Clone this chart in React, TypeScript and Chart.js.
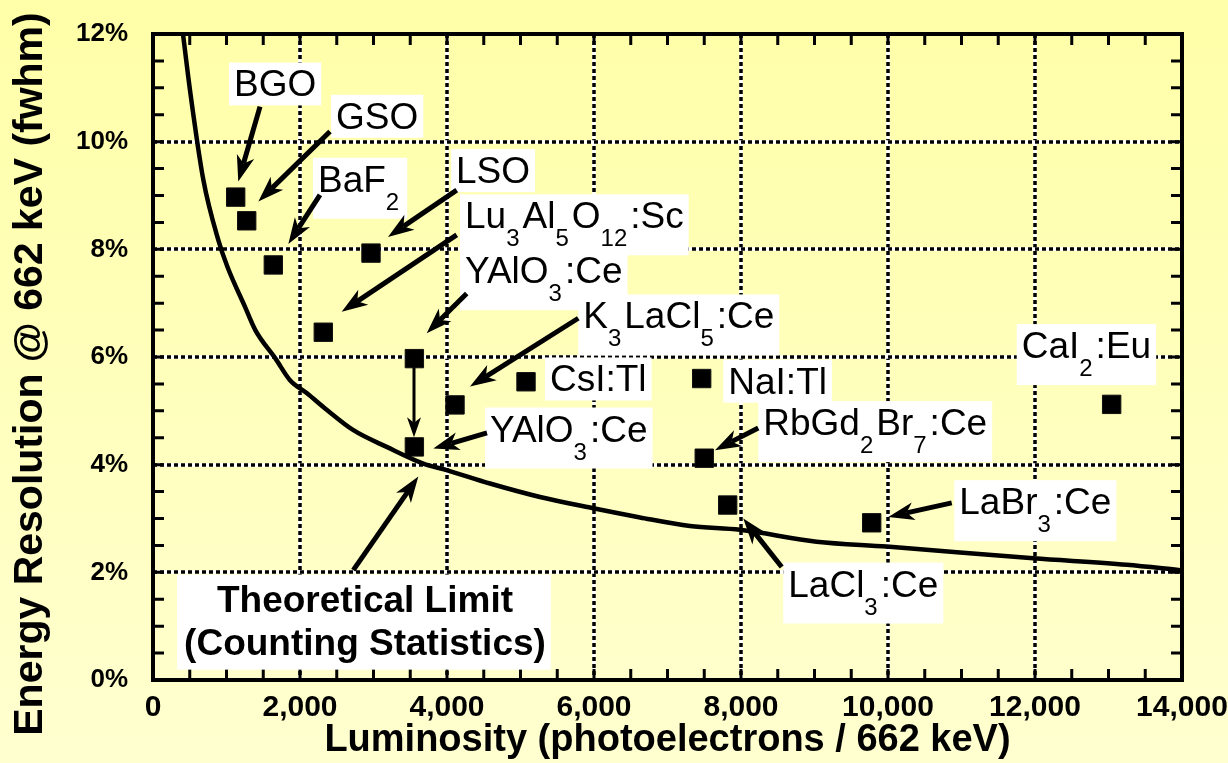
import React, { useEffect, useRef } from 'react';
import { Chart, registerables } from 'chart.js';

Chart.register(...registerables);

// Theoretical limit curve (counting statistics), luminosity vs. resolution in %
const curveLum = [408, 503, 685, 889, 1011, 1252, 1392, 1667, 1864, 2091, 2363, 2726, 3179, 3678, 3995, 4585, 5265, 5991, 6626, 7306, 7986, 9029, 9982, 11977, 13247, 13973];
const curveRes = [12.0, 10.96, 9.29, 8.17, 7.68, 6.93, 6.5, 5.97, 5.57, 5.33, 5.02, 4.64, 4.33, 4.02, 3.9, 3.65, 3.4, 3.19, 3.02, 2.86, 2.79, 2.57, 2.48, 2.26, 2.14, 2.04];

// Measured scintillators
const materials = ['BGO', 'GSO', 'BaF2', 'LSO', 'Lu3Al5O12:Sc', 'YAlO3:Ce', 'YAlO3:Ce', 'K3LaCl5:Ce', 'CsI:Tl', 'NaI:Tl', 'RbGd2Br7:Ce', 'LaCl3:Ce', 'LaBr3:Ce', 'CaI2:Eu'];
const matLum = [1125, 1275, 1637, 2966, 2317, 3556, 3556, 4109, 5075, 7465, 7500, 7819, 9778, 13043];
const matRes = [8.97, 8.53, 7.71, 7.93, 6.46, 5.97, 4.33, 5.11, 5.54, 5.6, 4.12, 3.25, 2.92, 5.12];

// Axis ticks
const xTickValues = [0, 2000, 4000, 6000, 8000, 10000, 12000, 14000];
const yTickValues = [0, 2, 4, 6, 8, 10, 12];

const xTitle = 'Luminosity (photoelectrons / 662 keV)';
const yTitle = 'Energy Resolution @ 662 keV (fwhm)';

// Callout layout: text ({n} = subscript), left edge / baseline in data units
const callouts = [
  { text: 'BGO', at: [1102, 10.84] },
  { text: 'GSO', at: [2490, 10.24] },
  { text: 'BaF{2}', at: [2245, 9.07] },
  { text: 'LSO', at: [4122, 9.23] },
  { text: 'Lu{3}Al{5}O{12}:Sc', at: [4245, 8.39] },
  { text: 'YAlO{3}:Ce', at: [4245, 7.37] },
  { text: 'K{3}LaCl{5}:Ce', at: [5854, 6.53] },
  { text: 'CsI:Tl', at: [5401, 5.36] },
  { text: 'NaI:Tl', at: [7827, 5.32] },
  { text: 'YAlO{3}:Ce', at: [4585, 4.43] },
  { text: 'RbGd{2}Br{7}:Ce', at: [8303, 4.55] },
  { text: 'LaCl{3}:Ce', at: [8643, 1.55] },
  { text: 'LaBr{3}:Ce', at: [10970, 3.08] },
  { text: 'CaI{2}:Eu', at: [11819, 5.98] },
];

// Pointer arrows: from -> to, in data units
const pointers = [
  { from: [1456, 10.65], to: [1160, 9.26] },
  { from: [2408, 10.19], to: [1433, 8.89] },
  { from: [2272, 9.01], to: [1841, 8.1] },
  { from: [4132, 9.1], to: [3197, 8.23] },
  { from: [4132, 8.27], to: [2567, 6.84] },
  { from: [4268, 7.18], to: [3724, 6.44] },
  { from: [3551, 5.81], to: [3551, 4.51], thin: true },
  { from: [5786, 6.72], to: [4313, 5.45] },
  { from: [4544, 4.59], to: [3814, 4.3] },
  { from: [8235, 4.68], to: [7646, 4.27] },
  { from: [8554, 2.1], to: [8031, 3.0] },
  { from: [10867, 3.29], to: [10004, 3.03] },
  { from: [2725, 2.04], to: [3610, 3.78] },
];

const limitNote = { lines: ['Theoretical Limit', '(Counting Statistics)'], at: [2884, 1.27] };

const FONT = "'Liberation Sans', Arial, sans-serif";

function parseRich(text: string) {
  const parts: { t: string; sub: boolean }[] = [];
  const re = /\{([^}]*)\}|([^{]+)/g;
  let m: RegExpExecArray | null;
  while ((m = re.exec(text))) {
    if (m[1] !== undefined) parts.push({ t: m[1], sub: true });
    else parts.push({ t: m[2], sub: false });
  }
  return parts;
}

function drawArrow(ctx: CanvasRenderingContext2D, x1: number, y1: number, x2: number, y2: number, lw: number, len: number, half: number) {
  const ang = Math.atan2(y2 - y1, x2 - x1);
  const ux = Math.cos(ang), uy = Math.sin(ang);
  const nx = -uy, ny = ux;
  const bx = x2 - ux * len, by = y2 - uy * len;
  const kx = x2 - ux * len * 0.72, ky = y2 - uy * len * 0.72;
  ctx.lineWidth = lw;
  ctx.lineCap = 'butt';
  ctx.beginPath();
  ctx.moveTo(x1, y1);
  ctx.lineTo(kx, ky);
  ctx.stroke();
  ctx.beginPath();
  ctx.moveTo(x2, y2);
  ctx.lineTo(bx + nx * half, by + ny * half);
  ctx.lineTo(kx, ky);
  ctx.lineTo(bx - nx * half, by - ny * half);
  ctx.closePath();
  ctx.fill();
}

const decor = {
  id: 'decor',
  beforeDraw(chart: any) {
    const { ctx, width, height } = chart;
    const g = ctx.createLinearGradient(0, 0, 0, height);
    g.addColorStop(0, '#ffffa8');
    g.addColorStop(1, '#ffffd0');
    ctx.save();
    ctx.fillStyle = g;
    ctx.fillRect(0, 0, width, height);
    ctx.restore();
  },
  beforeDatasetsDraw(chart: any) {
    const { ctx, chartArea: a, scales } = chart;
    const { x, y } = scales;
    ctx.save();
    ctx.lineWidth = 3.5;
    const seg = (x1: number, y1: number, x2: number, y2: number) => {
      ctx.setLineDash([]);
      ctx.strokeStyle = '#ffffff';
      ctx.beginPath(); ctx.moveTo(x1, y1); ctx.lineTo(x2, y2); ctx.stroke();
      ctx.setLineDash([4, 3]);
      ctx.strokeStyle = '#000000';
      ctx.beginPath(); ctx.moveTo(x1, y1); ctx.lineTo(x2, y2); ctx.stroke();
    };
    xTickValues.slice(1, -1).forEach((v) => {
      const px = Math.round(x.getPixelForValue(v));
      seg(px, a.top, px, a.bottom);
    });
    yTickValues.slice(1, -1).forEach((v) => {
      const py = Math.round(y.getPixelForValue(v));
      seg(a.left, py, a.right, py);
    });
    ctx.restore();
  },
  afterDatasetsDraw(chart: any) {
    const { ctx, chartArea: a, scales } = chart;
    const { x, y } = scales;
    ctx.save();
    ctx.setLineDash([]);
    ctx.strokeStyle = '#000';
    ctx.fillStyle = '#000';

    // inward ticks every half step on all four sides
    ctx.lineWidth = 3;
    const xMax = xTickValues[xTickValues.length - 1];
    for (let v = 0; v <= xMax; v += 500) {
      const px = x.getPixelForValue(v);
      ctx.beginPath();
      ctx.moveTo(px, a.bottom); ctx.lineTo(px, a.bottom - 11);
      ctx.moveTo(px, a.top); ctx.lineTo(px, a.top + 11);
      ctx.stroke();
    }
    const yMax = yTickValues[yTickValues.length - 1];
    for (let v = 0; v <= yMax; v += 0.5) {
      const py = y.getPixelForValue(v);
      ctx.beginPath();
      ctx.moveTo(a.left, py); ctx.lineTo(a.left + 11, py);
      ctx.moveTo(a.right, py); ctx.lineTo(a.right - 11, py);
      ctx.stroke();
    }
    ctx.lineWidth = 4;
    ctx.strokeRect(a.left, a.top, a.right - a.left, a.bottom - a.top);

    // callout boxes
    const mainPx = 37, subPx = 24, subDrop = 18, subGap = 3;
    callouts.forEach((c) => {
      const parts = parseRich(c.text);
      const left = x.getPixelForValue(c.at[0]);
      const base = y.getPixelForValue(c.at[1]);
      let w = 0;
      const hasSub = parts.some((p) => p.sub);
      parts.forEach((p) => {
        ctx.font = `${p.sub ? subPx : mainPx}px ${FONT}`;
        w += ctx.measureText(p.t).width + (p.sub ? subGap : 0);
      });
      ctx.fillStyle = '#ffffff';
      const top = base - 34;
      const bottom = hasSub ? base + subDrop + 9 : base + 9;
      ctx.fillRect(left - 5, top, w + 10, bottom - top);
      ctx.fillStyle = '#000';
      ctx.textBaseline = 'alphabetic';
      ctx.textAlign = 'left';
      let cx = left;
      parts.forEach((p) => {
        ctx.font = `${p.sub ? subPx : mainPx}px ${FONT}`;
        ctx.fillText(p.t, cx, p.sub ? base + subDrop : base);
        cx += ctx.measureText(p.t).width + (p.sub ? subGap : 0);
      });
    });

    // theoretical limit note
    {
      ctx.font = `bold 37px ${FONT}`;
      const cxp = x.getPixelForValue(limitNote.at[0]);
      const base = y.getPixelForValue(limitNote.at[1]);
      const widths = limitNote.lines.map((l) => ctx.measureText(l).width);
      const w = Math.max(...widths);
      ctx.fillStyle = '#ffffff';
      ctx.fillRect(cxp - w / 2 - 7, base - 37, w + 12, 43 + 52);
      ctx.fillStyle = '#000';
      ctx.textAlign = 'center';
      limitNote.lines.forEach((l, i) => ctx.fillText(l, cxp, base + i * 43.3));
    }

    // arrows
    ctx.fillStyle = '#000';
    ctx.strokeStyle = '#000';
    pointers.forEach((p) => {
      const x1 = x.getPixelForValue(p.from[0]);
      const y1 = y.getPixelForValue(p.from[1]);
      const x2 = x.getPixelForValue(p.to[0]);
      const y2 = y.getPixelForValue(p.to[1]);
      if (p.thin) drawArrow(ctx, x1, y1, x2, y2, 3, 20, 7);
      else drawArrow(ctx, x1, y1, x2, y2, 5, 26, 9);
    });
    ctx.restore();
  },
  afterDraw(chart: any) {
    // vertical axis title, centred on the full left margin band
    const { ctx } = chart;
    ctx.save();
    ctx.translate(31, 374);
    ctx.rotate(-Math.PI / 2);
    ctx.font = `bold 41px ${FONT}`;
    ctx.fillStyle = '#000';
    ctx.textAlign = 'center';
    ctx.textBaseline = 'middle';
    ctx.fillText(yTitle, 0, 0);
    ctx.restore();
  },
};

export default function App() {
  const ref = useRef<HTMLCanvasElement | null>(null);

  useEffect(() => {
    document.body.style.margin = '0';
    const canvas = ref.current;
    if (!canvas) return;
    const chart = new Chart(canvas, {
      type: 'scatter',
      data: {
        datasets: [
          {
            label: 'Theoretical limit',
            data: curveLum.map((v, i) => ({ x: v, y: curveRes[i] })),
            showLine: true,
            borderColor: '#000',
            borderWidth: 4.5,
            pointRadius: 0,
            cubicInterpolationMode: 'monotone',
          },
          {
            label: 'Scintillators',
            data: matLum.map((v, i) => ({ x: v, y: matRes[i], name: materials[i] })),
            pointStyle: 'rect',
            pointRadius: 13,
            backgroundColor: '#000',
            borderColor: '#111',
            borderWidth: 1,
          },
        ],
      },
      options: {
        responsive: false,
        animation: false,
        devicePixelRatio: 1,
        layout: { padding: { top: 34, right: 46, left: 0, bottom: 0 } },
        plugins: { legend: { display: false }, tooltip: { enabled: false } },
        scales: {
          x: {
            type: 'linear',
            min: 0,
            max: 14000,
            grid: { display: false, drawTicks: false },
            border: { display: false },
            afterBuildTicks: (s: any) => { s.ticks = xTickValues.map((v) => ({ value: v })); },
            afterFit: (s: any) => { s.height = 83; s.paddingLeft = 0; s.paddingRight = 0; },
            ticks: {
              color: '#000',
              padding: 10,
              maxRotation: 0,
              autoSkip: false,
              font: { family: FONT, size: 30, weight: 'bold' },
              callback: (v: any) => Number(v).toLocaleString('en-US'),
            },
            title: {
              display: true,
              text: xTitle,
              color: '#000',
              font: { family: FONT, size: 38, weight: 'bold' },
              padding: { top: 0, bottom: 0 },
            },
          },
          y: {
            type: 'linear',
            min: 0,
            max: 12,
            grid: { display: false, drawTicks: false },
            border: { display: false },
            afterBuildTicks: (s: any) => { s.ticks = yTickValues.map((v) => ({ value: v })); },
            afterFit: (s: any) => { s.width = 153; s.paddingTop = 0; s.paddingBottom = 0; },
            ticks: {
              color: '#000',
              padding: 25,
              autoSkip: false,
              font: { family: FONT, size: 26, weight: 'bold' },
              callback: (v: any) => `${v}%`,
            },
            title: { display: false },
          },
        },
      },
      plugins: [decor],
    });
    return () => chart.destroy();
  }, []);

  return (
    <div style={{ position: 'absolute', left: 0, top: 0, width: 1228, height: 763 }}>
      <canvas ref={ref} width={1228} height={763} />
    </div>
  );
}
